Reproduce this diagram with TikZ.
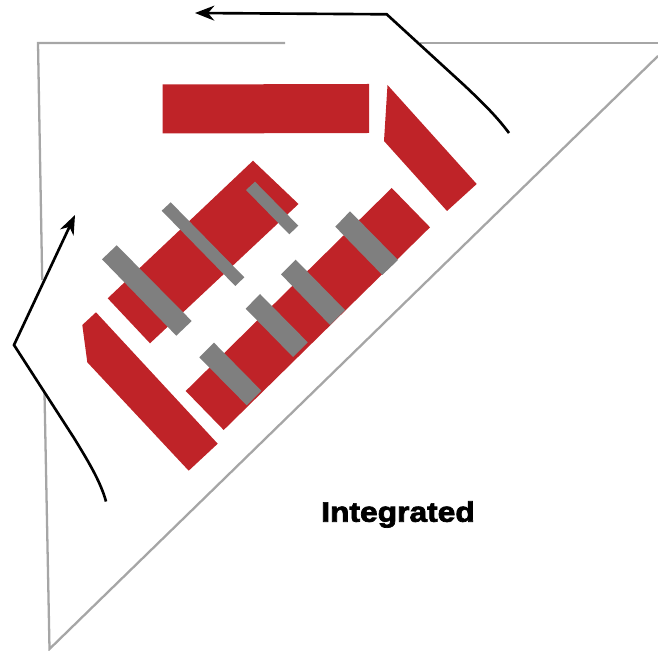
\documentclass[tikz,border=0pt]{standalone}
\usepackage{fontspec}
\setmainfont{Liberation Sans}[FakeBold=2.6,FakeStretch=1.13]
\usetikzlibrary{arrows.meta}
\definecolor{barred}{HTML}{BF2328}
\definecolor{cutgray}{HTML}{7F7F7F}
\definecolor{edgegray}{HTML}{A6A6A6}
\tikzset{
	redbar/.style={fill=barred,draw=none},
	graybar/.style={fill=cutgray,draw=none},
	outline/.style={draw=edgegray,line width=1.3pt},
	flow/.style={draw=black,line width=1.5pt,-{Stealth[length=11pt,width=8.5pt]}},
}
\begin{document}
\begin{tikzpicture}[x=0.02cm,y=-0.02cm]
	\useasboundingbox (0,0) rectangle (658,651);
	\draw[outline] (285,43) -- (38,43) -- (42.2,280);%Rand links oben
	\draw[outline] (44.5,393) -- (49.5,649) -- (658,56);%Rand unten
	\draw[outline] (420,43) -- (658,43);%Rand rechts oben
	\fill[redbar] (162.5,84.5) -- (369,84) -- (369,133) -- (162.5,133.5) -- cycle;%Balken oben
	\fill[redbar] (387.5,85) -- (384,141) -- (447,211) -- (476.7,184) -- cycle;%Balken rechts
	\fill[redbar] (253,160.7) -- (298.5,204) -- (150,343.3) -- (107.7,298.3) -- cycle;%Balken mitte
	\fill[redbar] (391.7,188) -- (430,227.3) -- (223.7,430) -- (185.7,391) -- cycle;%Balken unten rechts
	\fill[redbar] (96,312.3) -- (82.3,325) -- (87.3,362.3) -- (188.7,470.7) -- (217.7,443.7) -- cycle;%Balken unten links
	\fill[graybar] (255,181.7) -- (246,190) -- (289.3,234.3) -- (298.3,225.7) -- cycle;%Steg 1
	\fill[graybar] (170.7,202.3) -- (161.7,210.7) -- (235.3,286) -- (244.3,277.3) -- cycle;%Steg 2
	\fill[graybar] (116.7,245.3) -- (102,259.3) -- (176.3,335.7) -- (191.7,321) -- cycle;%Steg 3
	\fill[graybar] (214,342.7) -- (199.3,357.3) -- (246.7,405.3) -- (261.3,390.7) -- cycle;%Steg 4
	\fill[graybar] (260,294) -- (245.7,308.7) -- (293,357) -- (307.7,342.3) -- cycle;%Steg 5
	\fill[graybar] (295.7,259.7) -- (281,274.3) -- (330,325) -- (345,310) -- cycle;%Steg 6
	\fill[graybar] (350,211.3) -- (335.3,226.7) -- (382.3,275) -- (398,260) -- cycle;%Steg 7
	\coordinate (topstart) at (509,133);
	\coordinate (topbend) at (386.7,14.3);
	\coordinate (toptip) at (195,13);
	\coordinate (leftstart) at (106,501.5);
	\coordinate (leftbend) at (14,345);
	\coordinate (lefttip) at (75,215);
	\draw[flow] (topstart) .. controls (497,117) and (485,105) .. (465,86) -- (topbend) -- (toptip);%Pfeil oben
	\draw[flow] (leftstart) .. controls (101,483) and (90,464) .. (74,438) -- (leftbend) -- (lefttip);%Pfeil links
	\node[inner sep=0pt,font=\fontsize{16}{18}\selectfont\bfseries] (lbl) at (398,514.5) {Integrated};
\end{tikzpicture}
\end{document}
